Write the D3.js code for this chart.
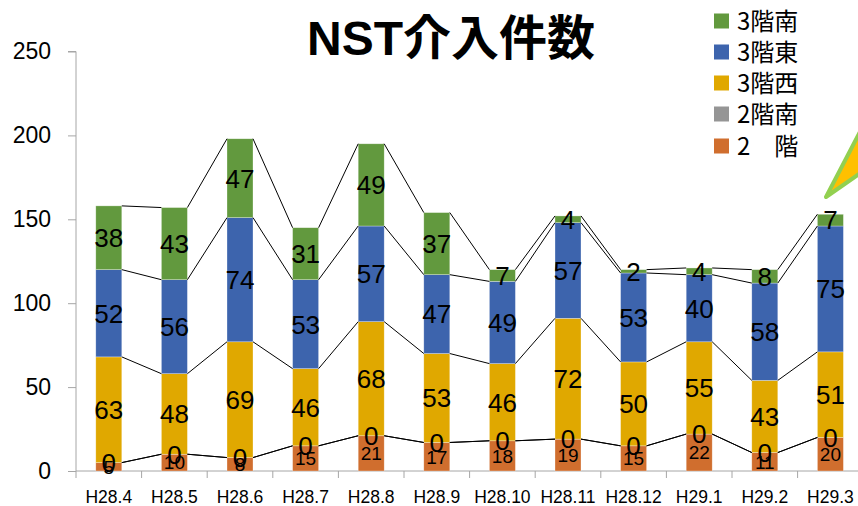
<!DOCTYPE html>
<html>
<head>
<meta charset="utf-8">
<script src="https://cdn.jsdelivr.net/npm/d3@7"></script>
<style>
html,body{margin:0;padding:0;background:#fff;}
svg{display:block;}
</style>
</head>
<body>
<svg id="chart" width="858" height="506"></svg>
<script>
// ---- data ----
const categories = ["H28.4","H28.5","H28.6","H28.7","H28.8","H28.9","H28.10","H28.11","H28.12","H29.1","H29.2","H29.3"];
const series2F   = [5,10,8,15,21,17,18,19,15,22,11,20];      // 2 階
const series2S   = [0,0,0,0,0,0,0,0,0,0,0,0];               // 2階南
const series3W   = [63,48,69,46,68,53,46,72,50,55,43,51];   // 3階西
const series3E   = [52,56,74,53,57,47,49,57,53,40,58,75];   // 3階東
const series3S   = [38,43,47,31,49,37,7,4,2,4,8,7];         // 3階南
const seriesNames = ["2　階","2階南","3階西","3階東","3階南"];
const yTicks = [0,50,100,150,200,250];
const title = "NST介入件数";

const colors = ["#D06E2E","#959595","#E0A800","#3D64AD","#62993E"];
const seriesVals = [series2F, series2S, series3W, series3E, series3S];

const svg = d3.select("#chart");
const latin = "'Liberation Sans','Noto Sans CJK JP',sans-serif";
const cjk = "'Noto Sans CJK JP','Liberation Sans',sans-serif";

const x = d3.scaleBand().domain(categories).range([76, 76 + 65.6*12]).padding(0);
const y = d3.scaleLinear().domain([0, 250]).range([471, 51.5]);
const barW = 26;

// stacked data
const rows = categories.map((c, i) => {
  const o = {cat: c};
  seriesNames.forEach((s, k) => o[k] = seriesVals[k][i]);
  return o;
});
const stack = d3.stack().keys(d3.range(seriesNames.length))(rows);

// y axis
const yAxis = d3.axisLeft(y).tickValues(yTicks).tickSize(8).tickPadding(17);
const gy = svg.append("g").attr("transform", "translate(76,0)").call(yAxis);
gy.select(".domain").attr("stroke", "#A6A6A6").attr("d", `M-8,${y(250)}H0V${y(0)}`);
gy.selectAll(".tick line").attr("stroke", "#A6A6A6");
gy.selectAll(".tick text").attr("font-family", latin).attr("font-size", 23).attr("fill", "#000");

// x axis
const gx = svg.append("g");
gx.append("line").attr("x1", 76).attr("x2", 858).attr("y1", y(0)).attr("y2", y(0)).attr("stroke", "#A6A6A6");
gx.selectAll("line.tk").data(categories).join("line").attr("class","tk")
  .attr("x1", d => x(d)).attr("x2", d => x(d)).attr("y1", y(0)).attr("y2", y(0) + 7).attr("stroke", "#A6A6A6");
gx.selectAll("text").data(categories).join("text")
  .attr("x", d => x(d) + x.bandwidth()/2).attr("y", 503)
  .attr("text-anchor", "middle").attr("font-family", latin).attr("font-size", 17.5).attr("fill", "#000")
  .text(d => d);

// bars
stack.forEach((layer, k) => {
  svg.append("g").selectAll("rect").data(layer).join("rect")
    .attr("x", d => x(d.data.cat) + x.bandwidth()/2 - barW/2)
    .attr("width", barW)
    .attr("y", d => y(d[1]))
    .attr("height", d => y(d[0]) - y(d[1]))
    .attr("fill", colors[k])
    .attr("stroke", "#fff").attr("stroke-opacity", 0.5).attr("stroke-width", 0.6);
});

// series lines
stack.forEach((layer) => {
  const segs = d3.range(layer.length - 1).map(i => [layer[i], layer[i+1]]);
  svg.append("g").selectAll("line").data(segs).join("line")
    .attr("x1", d => x(d[0].data.cat) + x.bandwidth()/2 + barW/2)
    .attr("y1", d => y(d[0][1]))
    .attr("x2", d => x(d[1].data.cat) + x.bandwidth()/2 - barW/2)
    .attr("y2", d => y(d[1][1]))
    .attr("stroke", "#000").attr("stroke-width", 1);
});

// data labels
stack.forEach((layer, k) => {
  svg.append("g").selectAll("text").data(layer).join("text")
    .attr("x", d => x(d.data.cat) + x.bandwidth()/2)
    .attr("y", d => y((d[0] + d[1]) / 2))
    .attr("dy", "0.36em")
    .attr("text-anchor", "middle")
    .attr("font-family", latin)
    .attr("font-size", k === 0 ? 19 : 26)
    .attr("fill", "#000")
    .text(d => d[1] - d[0]);
});

// title
svg.append("text").attr("x", 451).attr("y", 55).attr("text-anchor", "middle")
  .attr("font-family", latin).attr("font-weight", "bold").attr("font-size", 48).attr("fill", "#000")
  .text(title);

// legend (reverse order: top = 3階南)
const legY = [21, 52, 83, 114, 146];
const legendOrder = [4, 3, 2, 1, 0];
const lg = svg.append("g");
legendOrder.forEach((k, r) => {
  lg.append("rect").attr("x", 714).attr("y", legY[r] - 7.5).attr("width", 15).attr("height", 15).attr("fill", colors[k]);
  lg.append("text").attr("x", 737).attr("y", legY[r]).attr("dy", "0.36em")
    .attr("font-family", cjk).attr("font-size", 24).attr("fill", "#000")
    .text(seriesNames[k]);
});

// callout arrow fragment (top right)
svg.append("polygon")
  .attr("points", "826,197 862,128 862,172")
  .attr("fill", "#FFC000").attr("stroke", "#92D050").attr("stroke-width", 4).attr("stroke-linejoin", "round");
</script>
</body>
</html>
